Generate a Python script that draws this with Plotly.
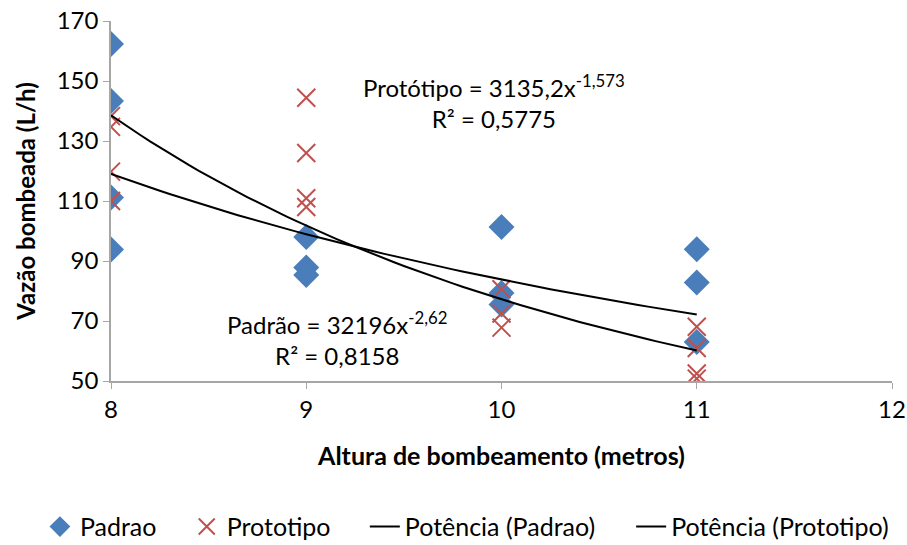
import numpy as np
import plotly.graph_objects as go

# Data
padrao_x = [8, 8, 8, 8, 9, 9, 9, 10, 10, 10, 11, 11, 11]
padrao_y = [162.3, 143.3, 111.2, 93.8, 98.0, 87.8, 85.3, 101.3, 79.3, 75.5, 93.9, 82.8, 63.0]
proto_x = [8, 8, 8, 8, 9, 9, 9, 9, 10, 10, 10, 11, 11, 11, 11]
proto_y = [138.3, 134.7, 119.8, 110.0, 144.4, 126.0, 110.9, 108.0, 80.6, 72.5, 67.8, 68.1, 61.0, 52.5, 50.8]

# Trendline coefficients (from chart labels)
pad_a, pad_b = 32196, -2.62
pro_a, pro_b = 3135.2, -1.573
trend_x = np.linspace(8, 11, 61)

x_ticks = [8, 9, 10, 11, 12]
y_ticks = [50, 70, 90, 110, 130, 150, 170]

FONT = "Lato, 'Noto Sans', sans-serif"
AXIS_COLOR = "#a6a6a6"

fig = go.Figure()
fig.add_trace(go.Scatter(
    x=padrao_x, y=padrao_y, mode="markers", name="Padrao", legend="legend",
    marker=dict(symbol="diamond", size=20, color="#4a7ebb"),
))
fig.add_trace(go.Scatter(
    x=proto_x, y=proto_y, mode="markers", name="Prototipo", legend="legend2",
    marker=dict(symbol="x-thin-open", size=18, color="#c0504d",
                line=dict(color="#c0504d", width=2)),
))
fig.add_trace(go.Scatter(
    x=trend_x, y=pad_a * trend_x ** pad_b, mode="lines", name="Potência (Padrao)",
    legend="legend3", line=dict(color="black", width=2),
))
fig.add_trace(go.Scatter(
    x=trend_x, y=pro_a * trend_x ** pro_b, mode="lines", name="Potência (Prototipo)",
    legend="legend4", line=dict(color="black", width=2),
))

fig.add_annotation(x=0.490, y=0.775, xref="paper", yref="paper", showarrow=False,
                   xanchor="center", yanchor="middle",
                   text="Protótipo = 3135,2x<sup>-1,573</sup><br>R² = 0,5775",
                   font=dict(size=24, color="black", family=FONT), align="center")
fig.add_annotation(x=0.290, y=0.119, xref="paper", yref="paper", showarrow=False,
                   xanchor="center", yanchor="middle",
                   text="Padrão = 32196x<sup>-2,62</sup><br>R² = 0,8158",
                   font=dict(size=24, color="black", family=FONT), align="center")

def leg(xpos):
    return dict(orientation="h", x=xpos, xanchor="left", y=-0.405, yanchor="middle",
                font=dict(size=25), bgcolor="rgba(0,0,0,0)")

fig.update_layout(
    width=907, height=545,
    margin=dict(l=111, r=15, t=21, b=164, autoexpand=False),
    plot_bgcolor="white", paper_bgcolor="white",
    font=dict(family=FONT, size=24, color="black"),
    showlegend=True,
    legend=leg(-0.091),
    legend2=leg(0.097),
    legend3=leg(0.325),
    legend4=leg(0.666),
    xaxis=dict(range=[8, 12], tickvals=x_ticks, showgrid=False, zeroline=False,
               showline=True, linecolor=AXIS_COLOR, linewidth=1.5,
               ticks="outside", ticklen=6, tickcolor=AXIS_COLOR,
               tickfont=dict(size=24), ticklabeloverflow="allow",
               title=dict(text="<b>Altura de bombeamento (metros)</b>", standoff=26,
                          font=dict(size=25))),
    yaxis=dict(range=[50, 170], tickvals=y_ticks, showgrid=False, zeroline=False,
               showline=True, linecolor=AXIS_COLOR, linewidth=1.5,
               ticks="outside", ticklen=6, tickcolor=AXIS_COLOR,
               tickfont=dict(size=24), ticklabeloverflow="allow",
               title=dict(text="<b>Vazão bombeada (L/h)</b>", standoff=14,
                          font=dict(size=24))),
)

fig.write_html("out.html", config={"displayModeBar": False},
               post_script="document.body.style.margin='0';document.body.style.overflow='hidden';")
